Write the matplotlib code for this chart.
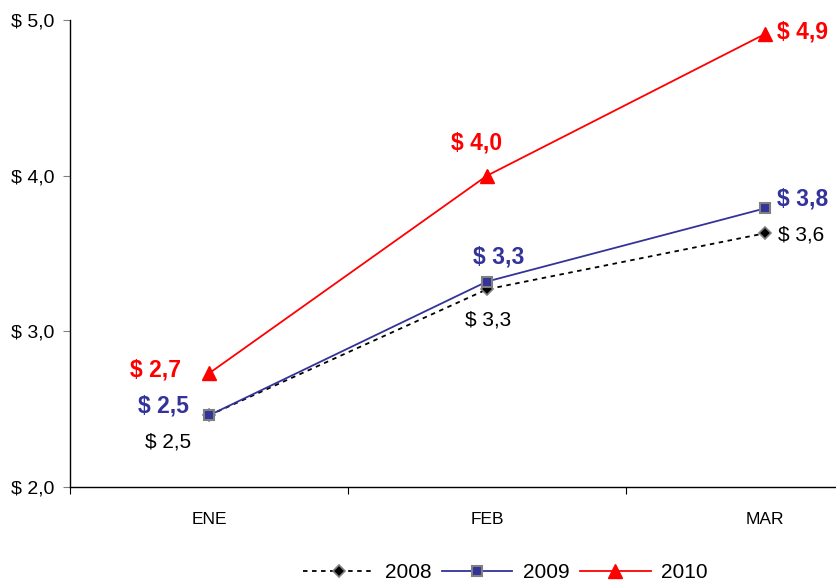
import matplotlib
matplotlib.use("Agg")
import matplotlib.pyplot as plt
from matplotlib.ticker import FixedLocator, NullFormatter

plt.rcParams['font.family'] = ['Liberation Sans', 'DejaVu Sans']

months = ['ENE', 'FEB', 'MAR']
years = ['2008', '2009', '2010']
v2008 = [2.46, 3.27, 3.63]
v2009 = [2.46, 3.32, 3.79]
v2010 = [2.73, 4.00, 4.91]
labels2008 = ['$ 2,5', '$ 3,3', '$ 3,6']
labels2009 = ['$ 2,5', '$ 3,3', '$ 3,8']
labels2010 = ['$ 2,7', '$ 4,0', '$ 4,9']
yticks = [2.0, 3.0, 4.0, 5.0]
ytick_labels = ['$ 2,0', '$ 3,0', '$ 4,0', '$ 5,0']

fig = plt.figure(figsize=(8.37, 5.82), dpi=100)
ax = fig.add_axes([0.0836, 0.1632, 0.9964, 0.8024])

x = list(range(len(months)))
ax.plot(x, v2008, color='black', linestyle=(0, (2.5, 2.5)), linewidth=1.3,
        marker='D', markersize=6, markerfacecolor='black', markeredgecolor='#808080',
        markeredgewidth=1.2, label=years[0])
ax.plot(x, v2009, color='#333399', linewidth=1.3,
        marker='s', markersize=7, markerfacecolor='#333399', markeredgecolor='#808080',
        markeredgewidth=1.5, label=years[1])
ax.plot(x, v2010, color='#FF0000', linewidth=1.3,
        marker='^', markersize=10, markerfacecolor='#FF0000', markeredgecolor='#FF0000',
        label=years[2])

# label offsets in pixels from each point
off2008 = [(-41, -27), (1, -31), (36, -2)]
off2009 = [(-46, 9), (12, 25), (38, 9)]
off2010 = [(-53, 3), (-10, 33), (38, 2)]
for vals, labs, offs, col, wt, fs in [(v2008, labels2008, off2008, 'black', 'normal', 15),
                                      (v2009, labels2009, off2009, '#333399', 'bold', 16.5),
                                      (v2010, labels2010, off2010, '#FF0000', 'bold', 16.5)]:
    for i, (v, t, o) in enumerate(zip(vals, labs, offs)):
        ax.annotate(t, (i, v), xytext=o, textcoords='offset pixels',
                    ha='center', va='center', color=col, fontweight=wt, fontsize=fs)

ax.set_xlim(-0.5, 2.5)
ax.set_ylim(2.0, 5.0)
ax.set_yticks(yticks)
ax.set_yticklabels(ytick_labels, fontsize=14)
ax.xaxis.set_major_locator(FixedLocator([-0.5, 0.5, 1.5, 2.5]))
ax.xaxis.set_major_formatter(NullFormatter())
ax.xaxis.set_minor_locator(FixedLocator(x))
ax.set_xticklabels(months, minor=True, fontsize=12.5)
ax.tick_params(axis='x', which='minor', length=0, pad=18)
ax.tick_params(axis='x', which='major', length=5, direction='out')
ax.tick_params(axis='y', length=5, direction='out', color='#808080', pad=6)

for s in ['top', 'right']:
    ax.spines[s].set_visible(False)
for s in ['left', 'bottom']:
    ax.spines[s].set_color('black')
    ax.spines[s].set_linewidth(1.0)

fig.legend(loc='center', bbox_to_anchor=(0.604, 0.016), ncol=3, frameon=False,
           fontsize=15, handlelength=3.4, handletextpad=0.5, columnspacing=0.5)

fig.savefig('out.png', dpi=100)
